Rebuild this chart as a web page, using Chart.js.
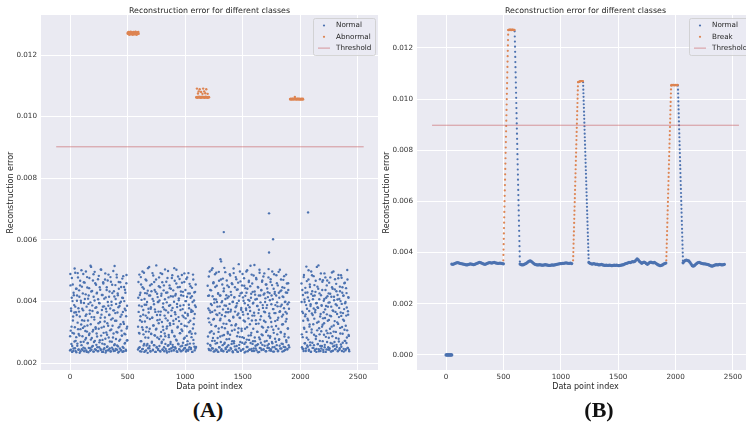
<!DOCTYPE html>
<html>
<head>
<meta charset="utf-8">
<script src="https://cdn.jsdelivr.net/npm/chart.js@4.4.1/dist/chart.umd.min.js"></script>
<style>
html, body { margin: 0; padding: 0; background: #fff; overflow: hidden; width: 746px; height: 426px; }
#wrap { position: relative; width: 746px; height: 426px; overflow: hidden; }
canvas { position: absolute; top: 0; }
#chartA { left: 0; }
#chartB { left: 378px; }
.tag { position: absolute; top: 399px; font: bold 22px 'Liberation Serif', serif; line-height: 22px; color: #111; transform: translateX(-50%); }
</style>
</head>
<body>
<div id="wrap">
  <canvas id="chartA" width="380" height="394"></canvas>
  <canvas id="chartB" width="378" height="394"></canvas>
  <div class="tag" style="left:208px">(A)</div>
  <div class="tag" style="left:599px">(B)</div>
</div>
<script>
// all error values are in units of 1e-5

// tick labels
const xTicks = [0, 500, 1000, 1500, 2000, 2500];
const yTicksA = [0.002, 0.004, 0.006, 0.008, 0.010, 0.012];
const yTicksB = [0.000, 0.002, 0.004, 0.006, 0.008, 0.010, 0.012];

// ---- panel A: scattered normal points, one value every 3rd index ----
const stepA = 3;
const normalStartsA = [0, 590, 1195, 2010];
const normalSeg1A = [
  241,489,305,377,262,412,236,298,455,351,247,420,388,270,316,493,239,365,284,441,
  402,256,331,478,243,294,367,415,233,452,310,268,396,501,245,339,287,426,371,250,
  462,238,319,408,276,353,497,241,383,302,445,264,338,235,419,291,476,360,248,397,
  326,512,243,281,434,369,255,307,488,237,349,403,272,459,316,242,381,296,428,251,
  364,472,239,311,395,267,446,333,246,504,289,357,421,236,275,383,462,244,318,409,
  261,348,491,234,376,299,437,252,329,468,241,386,283,415,357,247,306,479,238,341,
  399,269,454,321,245,371,296,433,258,515,240,362,408,278,337,487,243,299,426,254,
  381,463,237,318,395,276,350,242,447,305,289,412,236,366,482,249,327,401,263,438,
  293,371,240,459,312,386,274
];
const normalSeg2A = [
  244,412,366,298,487,251,339,428,271,455,237,384,316,497,246,357,293,441,262,408,
  335,239,471,302,389,257,426,347,233,508,282,364,419,248,311,452,239,376,295,433,
  266,347,492,241,322,401,258,463,290,374,236,431,309,517,250,356,283,414,242,398,
  329,478,255,341,446,237,367,301,425,269,489,243,318,393,276,452,238,354,407,287,
  246,371,464,312,234,429,338,499,258,291,386,245,443,323,262,417,353,239,476,300,
  379,252,436,327,241,508,286,365,419,247,343,458,273,392,236,318,481,261,404,336,
  244,447,297,372,238,420,309,486,256,354,431,242,388,279,463,321,249,401,345,237,
  473,288,415,260,359,240,492,332,378,251,426,303,449,245,366,284,417,236,398,312,
  471,263,345,429,241,387,296,455,252
];
const normalSeg3A = [
  451,286,377,246,419,332,497,259,364,241,436,303,388,272,508,247,341,462,295,407,
  238,371,447,263,320,493,242,398,356,281,425,236,312,467,251,384,339,419,268,530,
  245,356,401,289,474,239,328,442,262,387,313,495,249,365,420,277,236,452,301,376,
  258,416,339,241,488,292,367,431,246,323,459,271,398,235,350,507,264,413,308,446,
  243,381,326,472,255,394,237,439,299,361,521,248,418,285,346,465,240,373,311,428,
  266,489,244,357,402,281,451,234,335,418,267,377,497,252,316,441,238,388,345,463,
  275,402,243,369,516,290,425,246,338,458,262,393,311,484,239,354,432,271,406,247,
  327,472,258,385,301,447,235,362,419,283,503,249,341,397,266,436,242,318,468,290,
  379,244,422,337,491,256,365,410,238,301,455,272,388,249,430,316,478,262,352,241,
  404,287,463,245,333,419,268,497,251,375,308,441,237,362,425,279,388,246,320,485,
  258,397,340,452,240,311,428,277,366,503,247,384,299,436,263,351,237,416,326,470,
  253,378,444,294,242,399,335,487,268,361,428,246,312,459,283,397,251
];
const normalSeg4A = [
  458,293,367,246,421,337,239,486,311,398,264,444,358,247,513,282,376,429,253,339,
  471,240,402,318,455,267,385,236,497,299,361,433,249,407,326,482,258,344,419,243,
  372,467,287,236,395,331,448,261,379,517,245,313,426,272,351,239,491,303,388,255,
  437,324,469,242,365,292,408,251,346,478,236,385,305,452,268,417,337,244,396,282,
  461,248,354,425,297,237,383,318,494,263,441,240,369,302,415,256,336,472,245,391,
  281,433,252,359,406,238,327,486,270,379,243,448,314,401,260,353,477,239,428,295,
  362,418,246,337,459,272,394,241,321,443,265,380,306,471,249,357,412,288,238
];
// the indices in between (start + 1, same step)
const normalStartsA2 = [1, 591, 1196, 2011];
const normalSeg1A2 = [
  287,452,243,369,318,476,255,401,338,239,428,296,364,507,248,383,272,441,235,356,
  419,263,492,310,378,244,436,289,351,467,238,402,325,258,448,376,242,314,489,269,
  395,337,461,247,304,423,281,358,236,479,322,265,409,392,249,443,296,371,240,516,
  276,432,349,253,387,302,468,237,415,268,341,496,245,379,311,454,259,426,286,363,
  238,407,329,483,251,394,274,438,347,242,503,315,372,263,421,236,458,298,384,248,
  335,471,279,413,240,367,446,292,254,398,321,487,243,356,432,270,377,237,464,309,
  388,250,427,345,283,499,239,371,416,261,337,453,246,392,301,478,257,364,420,234,
  315,441,272,385,247,462,326,399,241,357,289,474,252,411,333,238,447,295,376,265,
  428,243,352,486,273,318
];
const normalSeg2A2 = [
  318,463,249,387,296,421,238,352,479,271,405,334,245,446,308,372,257,493,236,389,
  427,283,354,241,468,316,398,262,435,248,376,302,512,255,343,419,237,381,294,456,
  269,347,408,243,484,322,391,258,437,289,366,236,471,311,252,425,339,398,246,367,
  449,278,403,239,356,492,287,418,265,333,462,244,381,307,436,251,374,296,504,262,
  345,428,240,397,319,476,256,364,413,284,237,452,329,388,268,441,248,371,305,485,
  259,416,337,242,399,288,467,251,358,424,276,503,238,382,315,446,263,349,410,245,
  473,297,386,254,432,327,239,461,304,375,266,418,349,247,491,282,363,437,258,401,
  242,319,478,271,354,426,244,389,300,457,263,337,412,249,372,295,444,236,368,487,
  275,326,403,253,359,431,247,382
];
const normalSeg3A2 = [
  263,418,345,481,242,371,299,437,256,392,324,502,248,366,417,281,459,237,343,396,
  272,488,319,244,406,358,451,265,383,237,427,301,496,251,362,419,286,344,471,240,
  397,316,455,258,374,238,433,291,509,266,352,408,245,386,327,468,253,411,296,365,
  241,447,278,392,336,484,249,373,421,262,305,456,238,399,348,492,271,414,254,367,
  322,479,243,385,438,287,356,236,461,313,402,259,347,497,268,426,241,379,304,452,
  284,366,413,246,338,475,262,394,311,443,237,372,428,276,501,252,359,405,289,467,
  243,381,326,449,265,412,298,487,239,354,431,271,396,247,363,518,283,422,256,339,
  476,241,408,302,385,261,445,328,373,236,493,277,419,248,352,437,293,464,259,388,
  315,481,244,367,426,270,398,333,455,238,379,306,442,257,414,289,505,249,361,427,
  282,346,472,240,391,318,453,264,407,237,375,298,488,252,431,336,362,269,419,245,
  459,293,384,238,347,496,275,412,256,368,433,301,471,247,389,325,446,262,357,414,
  239,482,286,398,251,366,429,274,343,458,244,391,312,437,258,376
];
const normalSeg4A2 = [
  398,251,437,284,362,246,479,315,406,264,352,428,239,388,301,466,257,344,413,276,
  501,243,369,325,447,258,391,237,424,309,485,266,356,418,249,377,292,453,240,365,
  431,278,394,246,512,306,381,262,441,334,238,407,293,472,255,359,420,247,386,318,
  464,271,345,236,402,329,491,259,374,437,285,412,244,358,468,297,383,251,426,340,
  243,397,311,478,265,352,415,238,446,287,371,254,497,322,404,268,439,245,366,301,
  457,259,387,332,421,240,475,279,349,408,248,433,296,364,485,253,392,317,446,266,
  341,419,237,375,308,461,272,398,245,354,427,283,502,249,368,414,291,243
];
const outlierIdxA = [1306, 1335, 1728, 1728, 1763, 2067];
const outlierErrA = [537, 625, 559, 686, 602, 689];

const abnormalStartsA = [500, 1096, 1910];
const abnormalSeg1A = [1270,1273,1268,1275,1271,1266,1274,1269,1272,1276,1267,1271,1274,1269,1273,1266,1270,1275,1268,1272,1274,1267,1271,1276,1269,1273,1266,1270,1274,1268,1272,1275,1269];
const abnormalSeg2A = [1063,1062,1091,1064,1061,1075,1063,1082,1065,1062,1089,1063,1064,1061,1080,1063,1062,1065,1074,1063,1091,1062,1064,1082,1061,1063,1076,1065,1062,1089,1063,1064,1061,1074,1063,1062,1064,1063];
const abnormalSeg3A = [1057,1056,1058,1057,1056,1057,1058,1056,1057,1058,1057,1056,1057,1058,1064,1057,1056,1058,1057,1056,1057,1058,1056,1057,1058,1057,1056,1057,1058,1056,1057,1057,1056,1058,1057,1056,1057,1058,1056];
const thresholdA = 902;

// ---- panel B: smoothed errors ----
const zeroStartB = 0, zeroStepB = 5;
const zeroSegB = [0,0,0,0,0,0,0,0,0,0,0];
// flat normal stretches, one value every 10th index
const baseStepB = 10;
const baseStartsB = [50, 645, 1245, 2065];
const base1B = [355,354,356,358,360,361,360,358,357,356,355,354,353,352,353,354,356,355,354,353,354,356,358,360,362,361,359,357,355,354,356,358,360,361,360,359,361,362,360,359,358,358,359,358,357,356];
const base2B = [355,353,352,353,355,357,360,364,367,368,365,361,357,354,353,352,352,353,352,351,351,352,353,352,351,350,350,351,352,351,352,353,354,355,356,357,357,358,358,359,360,359,358,358,359,357];
const base3B = [361,358,356,355,357,356,354,355,353,352,353,354,352,351,350,351,350,350,351,350,349,350,351,350,351,350,349,350,351,352,353,355,357,358,360,362,361,363,365,364,366,371,376,372,366,362,358,361,363,361,357,354,358,362,363,361,360,362,359,356,353,351,349,350,352,355,357,359];
const base4B = [360,366,370,371,369,368,362,355,349,347,350,354,358,361,362,360,358,357,356,356,355,354,353,351,349,347,348,350,352,353,352,353,354,353,352,353,354];
// falling edges (normal), one value per index
const fallStartsB = [598, 1194, 2020];
const fall1B = [1265,1245,1225,1205,1185,1165,1145,1125,1105,1085,1065,1045,1025,1005,985,965,945,925,905,885,865,845,825,805,785,765,745,725,705,685,665,645,625,605,585,565,545,525,505,485,465,445,425,405,385,365];
const fall2B = [1066,1052,1037,1023,1009,994,980,966,951,937,923,908,894,880,865,851,837,822,808,794,779,765,751,736,722,708,693,679,665,650,636,622,607,593,579,564,550,536,521,507,493,478,464,450,435,421,407,392,378,364];
const fall3B = [1053,1037,1022,1006,991,975,960,944,929,913,898,882,866,851,835,820,804,789,773,758,742,727,711,695,680,664,649,633,618,602,587,571,556,540,524,509,493,478,462,447,431,416,400,385,369];
// rising edges (break), one value per index
const riseStartsB = [499, 1107, 1919];
const rise1B = [370,391,412,433,454,475,496,517,538,559,580,601,622,643,664,685,706,727,748,769,790,811,832,853,874,895,916,937,958,979,1000,1021,1042,1063,1084,1105,1126,1147,1168,1189,1210,1231,1252,1270];
const rise2B = [370,386,402,418,435,451,467,483,499,516,532,548,564,580,597,613,629,645,661,678,694,710,726,742,759,775,791,807,823,840,856,872,888,904,921,937,953,969,985,1002,1018,1034,1050,1066];
const rise3B = [370,386,402,419,435,451,468,484,500,517,533,549,565,582,598,614,631,647,663,680,696,712,728,745,761,777,794,810,826,843,859,875,891,908,924,940,957,973,989,1006,1022,1038,1053];
// break plateaus, one value every 3rd index
const plateauStep = 3;
const plateauStartsB = [543, 1151, 1962];
const plateau1B = [1270,1271,1270,1272,1271,1270,1271,1272,1270,1271,1270,1271,1272,1271,1270,1271,1270,1271,1270];
const plateau2B = [1066,1067,1068,1068,1069,1069,1070,1070,1070,1071,1071,1071,1070,1071,1070];
const plateau3B = [1054,1055,1056,1055,1055,1054,1055,1056,1055,1055,1054,1055,1055,1056,1055,1054,1055,1055,1056,1055];
const thresholdB = 898;

const blue = '#4C72B0';
const orange = '#DD8452';
const thrColor = 'rgba(196,78,82,0.55)';

function toPoints(starts, segs, step, out) {
    segs.forEach((seg, k) => {
        seg.forEach((v, i) => out.push({ x: starts[k] + i * step, y: v / 1e5 }));
    });
    return out;
}

const normalA = toPoints(normalStartsA, [normalSeg1A, normalSeg2A, normalSeg3A, normalSeg4A], stepA, []);
toPoints(normalStartsA2, [normalSeg1A2, normalSeg2A2, normalSeg3A2, normalSeg4A2], stepA, normalA);
outlierIdxA.forEach((x, i) => normalA.push({ x: x, y: outlierErrA[i] / 1e5 }));
const abnormalA = toPoints(abnormalStartsA, [abnormalSeg1A, abnormalSeg2A, abnormalSeg3A], stepA, []);

const baseB = toPoints(baseStartsB, [base1B, base2B, base3B, base4B], baseStepB, []);
toPoints([zeroStartB], [zeroSegB], zeroStepB, baseB);
const fallB = toPoints(fallStartsB, [fall1B, fall2B, fall3B], 1, []);
const breakB = toPoints(riseStartsB, [rise1B, rise2B, rise3B], 1, []);
toPoints(plateauStartsB, [plateau1B, plateau2B, plateau3B], plateauStep, breakB);

Chart.defaults.font.family = "'DejaVu Sans', sans-serif";
Chart.defaults.color = '#262626';

const bgPlugin = {
    id: 'bg',
    beforeDraw(chart) {
        const { ctx, chartArea: a } = chart;
        ctx.save();
        ctx.fillStyle = '#EAEAF2';
        ctx.fillRect(a.left, a.top, a.right - a.left, a.bottom - a.top);
        ctx.restore();
    }
};

const overlay = (title, labels) => ({
    id: 'overlay',
    afterDraw(chart) {
        const { ctx, chartArea: a } = chart;
        ctx.save();
        ctx.font = '7.9px "DejaVu Sans"';
        ctx.fillStyle = '#262626';
        ctx.textAlign = 'center';
        ctx.textBaseline = 'middle';
        ctx.fillText(title, (a.left + a.right) / 2, 10.5);

        const bx = a.right - 65, by = a.top + 3;
        ctx.fillStyle = 'rgba(234,234,242,0.8)';
        ctx.strokeStyle = '#cccccc';
        ctx.lineWidth = 0.8;
        ctx.beginPath();
        ctx.roundRect(bx + 0.5, by + 0.5, 62, 37, 2);
        ctx.fill();
        ctx.stroke();

        ctx.font = '7.2px "DejaVu Sans"';
        ctx.textAlign = 'left';
        labels.forEach((lab, i) => {
            const y = by + 7.5 + i * 11.3;
            ctx.fillStyle = '#262626';
            ctx.fillText(lab, bx + 23, y);
            if (i < 2) {
                ctx.fillStyle = i === 0 ? blue : orange;
                ctx.beginPath();
                ctx.arc(bx + 11, y, 1.1, 0, Math.PI * 2);
                ctx.fill();
            } else {
                ctx.strokeStyle = thrColor;
                ctx.lineWidth = 1;
                ctx.beginPath();
                ctx.moveTo(bx + 5, y);
                ctx.lineTo(bx + 17, y);
                ctx.stroke();
            }
        });
        ctx.restore();
    }
});

const makeScales = (xMin, xMax, yMin, yMax, yTicks, yWidth, yTitlePad) => ({
    x: {
        type: 'linear',
        min: xMin,
        max: xMax,
        afterBuildTicks: s => { s.ticks = xTicks.map(v => ({ value: v })); },
        ticks: { font: { size: 7.2 }, color: '#333', padding: 3, maxRotation: 0, autoSkip: false, callback: v => String(v) },
        grid: { color: '#ffffff', lineWidth: 1, drawTicks: false },
        border: { display: false },
        title: { display: true, text: 'Data point index', font: { size: 8 }, padding: { top: 0, bottom: 2 } },
        afterFit: s => { s.height = 24; }
    },
    y: {
        type: 'linear',
        min: yMin,
        max: yMax,
        afterBuildTicks: s => { s.ticks = yTicks.map(v => ({ value: v })); },
        ticks: { font: { size: 7.2 }, color: '#333', padding: 4, autoSkip: false, callback: v => v.toFixed(3) },
        grid: { color: '#ffffff', lineWidth: 1, drawTicks: false },
        border: { display: false },
        title: { display: true, text: 'Reconstruction error', font: { size: 8 }, padding: { top: yTitlePad, bottom: 0 } },
        afterFit: s => { s.width = yWidth; }
    }
});

const dots = (data, color, r) => ({
    data: data,
    backgroundColor: color,
    borderWidth: 0,
    pointRadius: r,
    pointHoverRadius: r,
    pointBorderWidth: 0
});

const thrLine = (y, x0, x1) => ({
    data: [{ x: x0, y: y / 1e5 }, { x: x1, y: y / 1e5 }],
    showLine: true,
    borderColor: thrColor,
    borderWidth: 1,
    pointRadius: 0
});

const baseOptions = (scales) => ({
    responsive: false,
    animation: false,
    devicePixelRatio: 1,
    events: [],
    layout: { padding: { top: 15, right: 2, left: 0, bottom: 0 } },
    plugins: { legend: { display: false }, tooltip: { enabled: false }, title: { display: false } },
    scales: scales
});

new Chart(document.getElementById('chartA'), {
    type: 'scatter',
    data: {
        datasets: [
            thrLine(thresholdA, -120, 2550),
            dots(abnormalA, orange, 1.2),
            dots(normalA, blue, 1.2)
        ]
    },
    options: baseOptions(makeScales(-252, 2674, 0.001773, 0.0133, yTicksA, 41, 6)),
    plugins: [bgPlugin, overlay('Reconstruction error for different classes', ['Normal', 'Abnormal', 'Threshold'])]
});

new Chart(document.getElementById('chartB'), {
    type: 'scatter',
    data: {
        datasets: [
            thrLine(thresholdB, -122, 2552),
            dots(breakB, orange, 1.1),
            dots(fallB, blue, 1.1),
            dots(baseB, blue, 1.6)
        ]
    },
    options: baseOptions(makeScales(-253, 2683, -0.00059, 0.01329, yTicksB, 39, 4)),
    plugins: [bgPlugin, overlay('Reconstruction error for different classes', ['Normal', 'Break', 'Threshold'])]
});
</script>
</body>
</html>
